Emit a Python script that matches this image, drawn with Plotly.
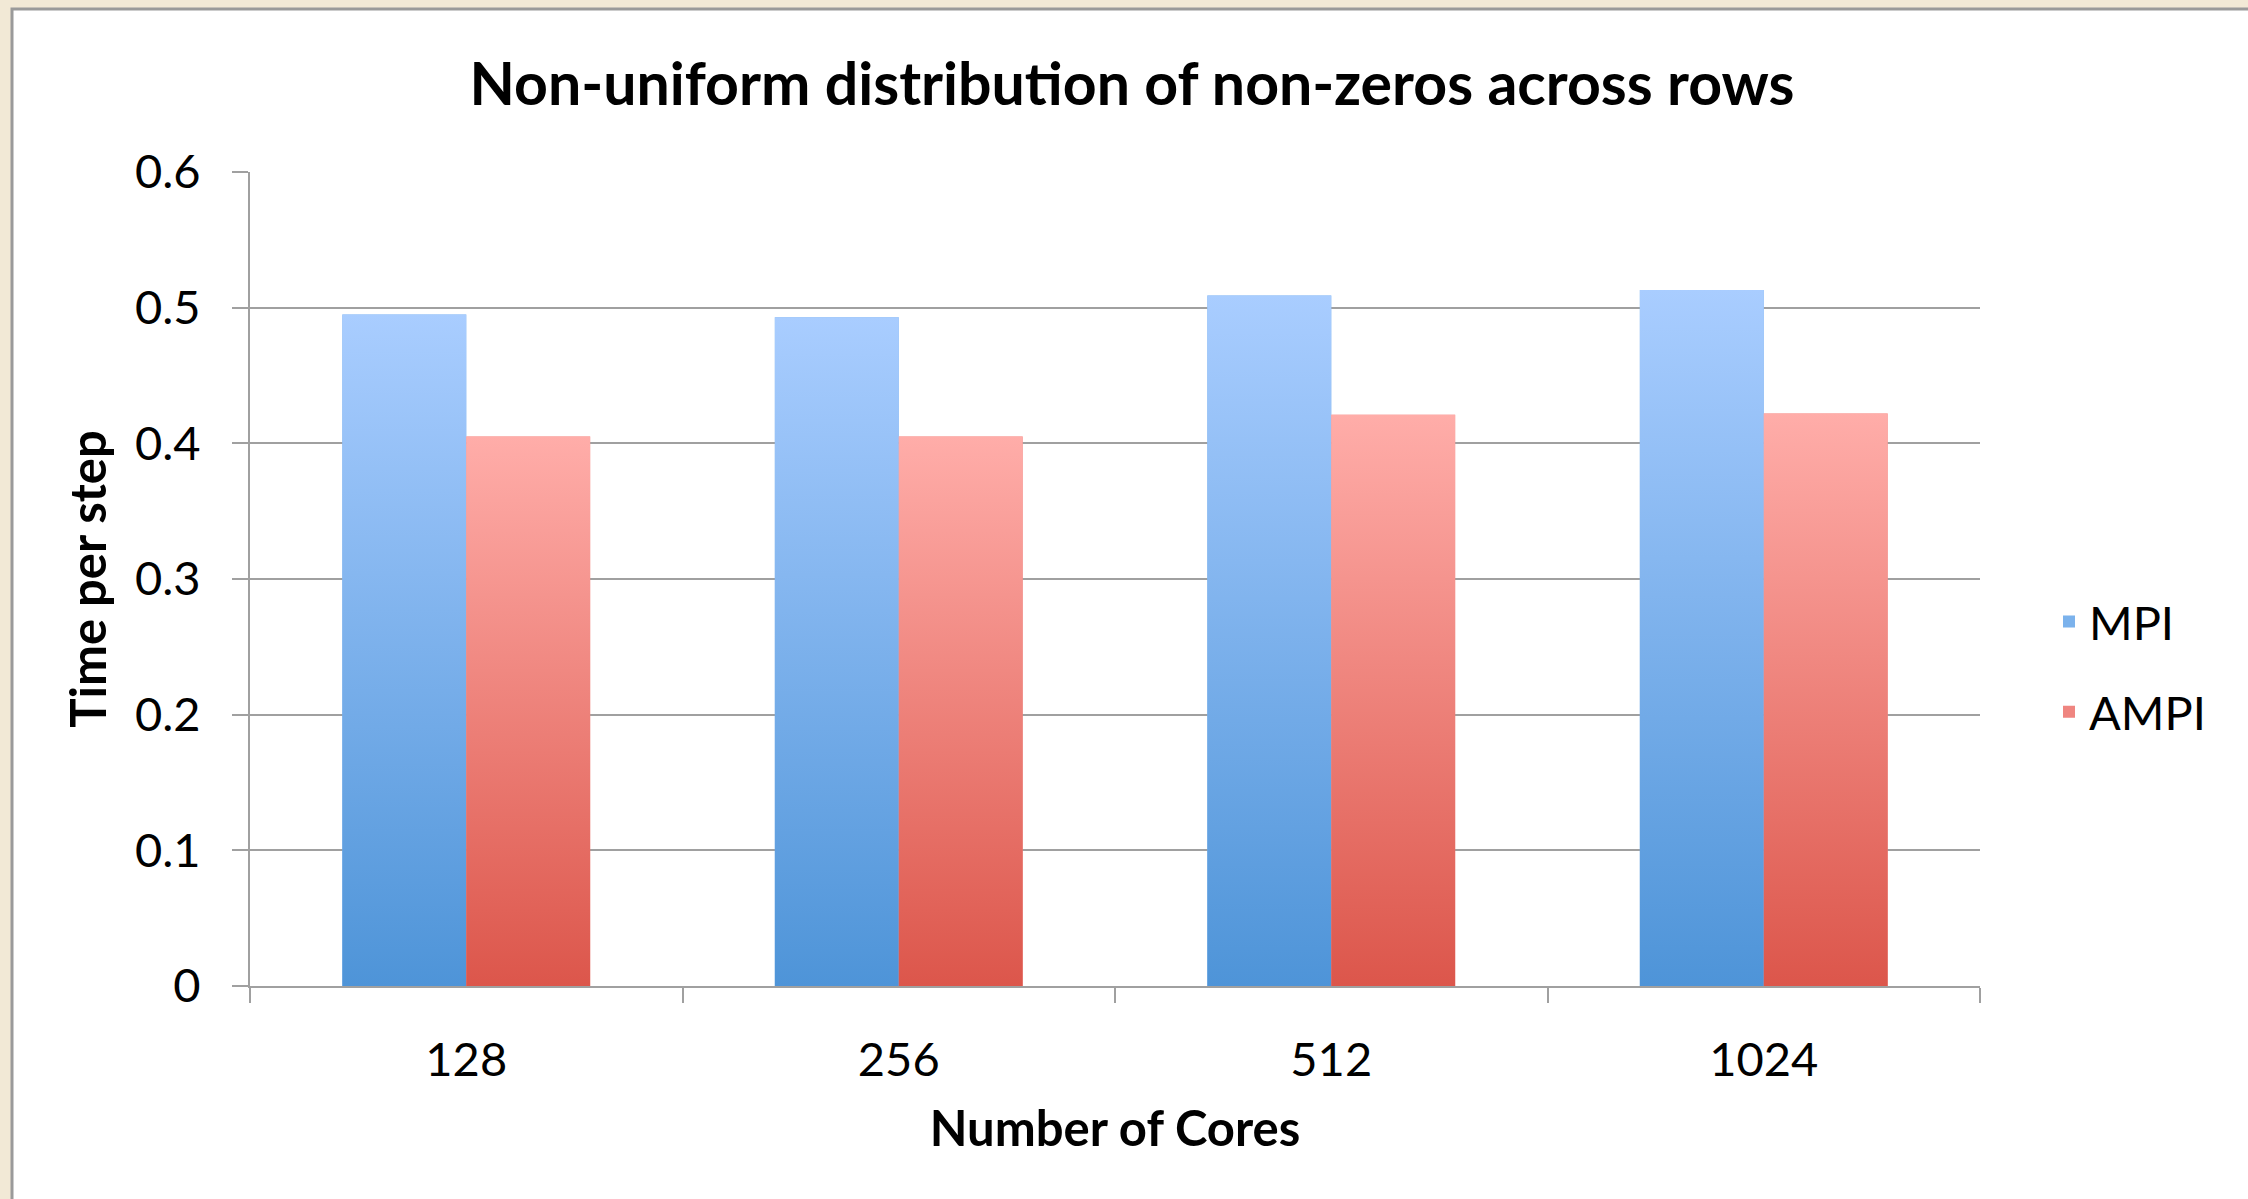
import plotly.graph_objects as go

# ---- data ----
categories = ["128", "256", "512", "1024"]
mpi = [0.495, 0.493, 0.509, 0.513]
ampi = [0.405, 0.405, 0.421, 0.422]
y_tickvals = [0, 0.1, 0.2, 0.3, 0.4, 0.5, 0.6]
y_ticktext = ["0", "0.1", "0.2", "0.3", "0.4", "0.5", "0.6"]

series = [
    ("MPI", mpi, "#7BB2EC", "#A9CDFF", "#4E94D8"),
    ("AMPI", ampi, "#EF8580", "#FFADA9", "#DC564B"),
]

FONT = "Lato"
GRAY = "#A0A0A0"
W = 2248
H = 1199
L, R, T, B = 250, 268, 172, 213

idx = list(range(len(categories)))
bargap = 0.427
bw = (1 - bargap) / len(series)

fig = go.Figure()

# bars (legend + base)
for k, (name, vals, mid, top, bot) in enumerate(series):
    fig.add_trace(go.Bar(
        x=idx, y=vals, name=name,
        marker=dict(color=mid, line=dict(width=0)),
        legendgroup=name,
        hoverinfo="skip",
    ))

# gradient overlays for each bar, positioned from the data on the same axis
for k, (name, vals, mid, top, bot) in enumerate(series):
    for i, v in zip(idx, vals):
        x0 = i - bw * len(series) / 2 + k * bw
        x1 = x0 + bw
        fig.add_trace(go.Scatter(
            x=[x0, x1, x1, x0, x0], y=[0, 0, v, v, 0],
            mode="none", fill="toself",
            fillgradient=dict(type="vertical",
                              colorscale=[[0, bot], [1, top]],
                              start=0, stop=v),
            showlegend=False, hoverinfo="skip", legendgroup=name,
        ))

# white panel with border on beige page
px = lambda xp: (xp - L) / (W - L - R)
py = lambda yp: (H - B - yp) / (H - T - B)
fig.add_shape(type="rect", xref="paper", yref="paper",
              x0=px(12), x1=px(W + 10), y0=py(H + 10), y1=py(9),
              fillcolor="white", line=dict(color="#9A9A9A", width=3),
              layer="below")

fig.update_layout(
    width=W, height=H,
    margin=dict(l=L, r=R, t=T, b=B, autoexpand=False),
    paper_bgcolor="#F2E9D6",
    plot_bgcolor="rgba(0,0,0,0)",
    barmode="group", bargap=bargap, bargroupgap=0,
    font=dict(family=FONT, size=46, color="black"),
    title=dict(text="<b>Non-uniform distribution of non-zeros across rows</b>",
               x=(1132) / W, xanchor="center", y=1 - 84 / H, yanchor="middle",
               font=dict(family=FONT, size=59, color="black")),
    showlegend=True,
    legend=dict(x=px(2049), xanchor="left", y=py(667), yanchor="middle",
                font=dict(family=FONT, size=47, color="black"),
                traceorder="grouped", tracegroupgap=26,
                bgcolor="rgba(0,0,0,0)", itemwidth=30),
    xaxis=dict(
        range=[-0.5, len(categories) - 0.5],
        tickmode="array", tickvals=idx, ticktext=categories,
        ticks="", showgrid=False, zeroline=False,
        showline=True, linecolor=GRAY, linewidth=2,
        ticklabelstandoff=32,
        tickfont=dict(size=47),
        minor=dict(tickmode="linear", tick0=-0.5, dtick=1,
                   ticks="outside", ticklen=15, tickwidth=2, tickcolor=GRAY,
                   showgrid=False),
        title=dict(text="<b>Number of Cores</b>", standoff=26,
                   font=dict(family=FONT, size=49, color="black")),
        fixedrange=True,
    ),
    yaxis=dict(
        range=[0, 0.6], tickmode="array", tickvals=y_tickvals, ticktext=y_ticktext,
        ticks="outside", ticklen=16, tickwidth=2, tickcolor=GRAY,
        showgrid=True, gridcolor=GRAY, gridwidth=2,
        zeroline=False, showline=True, linecolor=GRAY, linewidth=2,
        ticklabelstandoff=22,
        tickfont=dict(size=47),
        title=dict(text="<b>Time per step</b>", standoff=13,
                   font=dict(family=FONT, size=49, color="black")),
        fixedrange=True,
    ),
)

fig.write_html("out.html")
